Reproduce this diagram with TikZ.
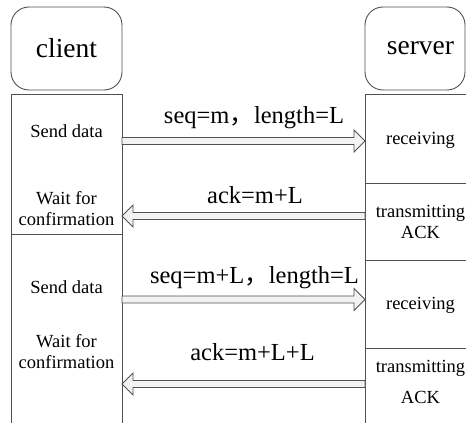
\documentclass[tikz,border=0pt]{standalone}
\usepackage{fontspec}
\setmainfont{Liberation Serif}
\newfontfamily\timesfont{Liberation Serif}
\newfontfamily\cjk{Noto Sans CJK SC}
\usetikzlibrary{calc}

\definecolor{linegray}{HTML}{505050}
\definecolor{arrowfill}{HTML}{F2F2F2}

\tikzset{
  frame/.style={draw=linegray, line width=0.9pt},
  headbox/.style={frame, rounded corners=18pt, inner sep=0pt, outer sep=0pt,
    minimum width=#1, minimum height=83pt},
  segment/.style={frame, inner sep=0pt, outer sep=0pt},
  titletext/.style={font=\timesfont\fontsize{27.5}{30}\selectfont, inner sep=0pt},
  steptext/.style={font=\timesfont\fontsize{18.5}{21}\selectfont, align=center, inner sep=0pt},
  msgtext/.style={font=\timesfont\fontsize{24.5}{28}\selectfont, inner sep=0pt, anchor=base},
  arrowbody/.style={draw=linegray, line width=0.8pt, fill=arrowfill, line join=miter},
}

% hollow block arrow between two points on the same horizontal line
\newcommand{\flowarrow}[2]{%
  \draw[arrowbody] let \p1=(#1), \p2=(#2), \p3=($(#2)!11pt!(#1)$) in
    (\x1,{\y1+3.5pt}) -- (\x3,{\y1+3.5pt}) -- (\x3,{\y1+11pt})
    -- (\x2,\y2) -- (\x3,{\y1-11pt}) -- (\x3,{\y1-3.5pt})
    -- (\x1,{\y1-3.5pt}) -- cycle;}

\begin{document}
\begin{tikzpicture}[x=1pt, y=-1pt]
  \useasboundingbox (0,0) rectangle (466,423);
  \clip (0,0) rectangle (466,423);

  % participants
  \node[headbox=111pt] (clientbox) at (66.5,48.5) {};
  \node[titletext] (client) at (66.5,48.5) {client};
  \node[headbox=100pt] (serverbox) at (415,48.5) {};
  \node[titletext] (server) at (420.5,48.5) {server};

  % client activity column
  \node[segment, minimum width=111pt, minimum height=140pt] (cseg1) at (66.5,164) {};
  \node[segment, minimum width=111pt, minimum height=196pt] (cseg2) at (66.5,332) {};

  % server activity column
  \node[segment, minimum width=115pt, minimum height=89pt] (sseg1) at (422.5,138.5) {};
  \node[segment, minimum width=115pt, minimum height=77pt] (sseg2) at (422.5,221.5) {};
  \node[segment, minimum width=115pt, minimum height=88pt] (sseg3) at (422.5,304) {};
  \node[segment, minimum width=115pt, minimum height=82pt] (sseg4) at (422.5,389) {};

  % client steps
  \node[steptext, anchor=base] (send1) at (66.5,137) {Send data};
  \node[steptext] (wait1) at (66.5,209) {Wait for\\confirmation};
  \node[steptext, anchor=base] (send2) at (66.5,293) {Send data};
  \node[steptext] (wait2) at (66.5,352) {Wait for\\confirmation};

  % server steps
  \node[steptext, anchor=base] (recv1) at (420.5,144) {receiving};
  \node[steptext] (ack1) at (420.5,222) {transmitting\\ACK};
  \node[steptext, anchor=base] (recv2) at (420.5,309) {receiving};
  \node[steptext] (ack2) at (420.5,382) {transmitting\\[10pt]ACK};

  % arrow end points on the two columns
  \coordinate (c1) at (122,141);   \coordinate (s1) at (365,141);
  \coordinate (s2) at (365,216);   \coordinate (c2) at (122,216);
  \coordinate (c3) at (122,299.5); \coordinate (s3) at (365,299.5);
  \coordinate (s4) at (365,384);   \coordinate (c4) at (122,384);

  \flowarrow{c1}{s1}
  \flowarrow{s2}{c2}
  \flowarrow{c3}{s3}
  \flowarrow{s4}{c4}

  % message labels
  \node[msgtext] (m1) at (254,123) {seq=m{\cjk ，}length=L};
  \node[msgtext] (m2) at (255,203) {ack=m+L};
  \node[msgtext] (m3) at (254.5,283) {seq=m+L{\cjk ，}length=L};
  \node[msgtext] (m4) at (252.5,360) {ack=m+L+L};
\end{tikzpicture}
\end{document}
